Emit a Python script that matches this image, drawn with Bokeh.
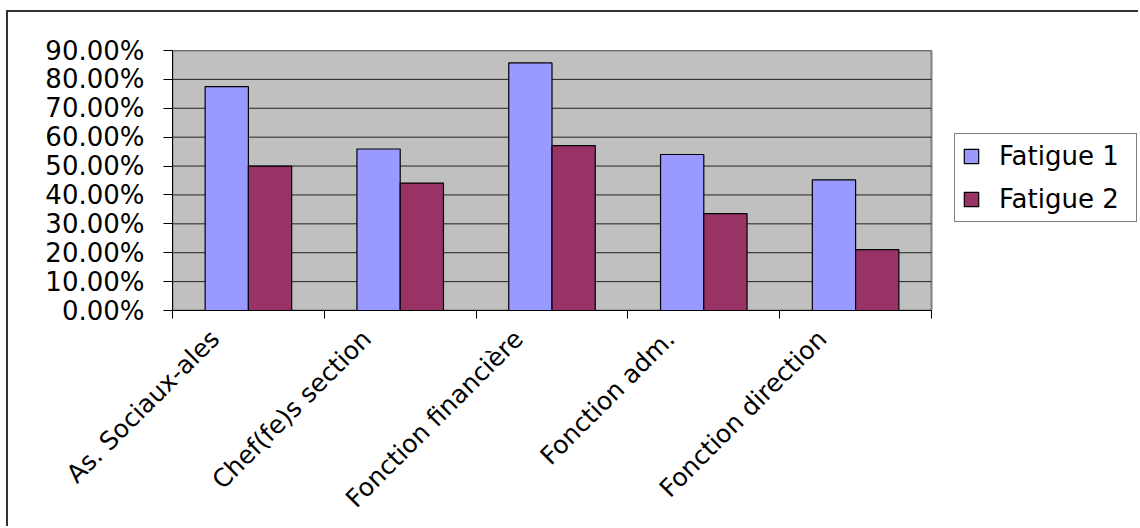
from math import pi

from bokeh.embed import file_html
from bokeh.models import (FixedTicker, Legend, LegendItem,
                          NumeralTickFormatter, Range1d)
from bokeh.plotting import figure
from bokeh.resources import INLINE

# Share of respondents reporting fatigue, by job category
categories = ["As. Sociaux-ales", "Chef(fe)s section", "Fonction financière",
              "Fonction adm.", "Fonction direction"]
fatigue_1 = [0.775, 0.559, 0.857, 0.540, 0.452]
fatigue_2 = [0.500, 0.441, 0.571, 0.335, 0.211]
series_names = ["Fatigue 1", "Fatigue 2"]
y_ticks = [0.0, 0.1, 0.2, 0.3, 0.4, 0.5, 0.6, 0.7, 0.8, 0.9]

FONT = "DejaVu Sans"
BAR_W = 0.285
LABEL_SHIFT = 0.22

n = len(categories)
y_max = y_ticks[-1]
x_f1 = [i + 0.5 - BAR_W / 2 for i in range(n)]
x_f2 = [i + 0.5 + BAR_W / 2 for i in range(n)]

# the frame runs to the right edge so the legend can sit beside the plot area
PLOT_AREA_PX = 759
FRAME_PX = 968
x_end = n * FRAME_PX / PLOT_AREA_PX

p = figure(width=1132, height=516,
           x_range=Range1d(0, x_end), y_range=Range1d(0, y_max),
           output_backend="svg", toolbar_location=None,
           min_border_left=164, min_border_right=0,
           min_border_top=38, min_border_bottom=218)

# chart area border (top and left edges; the others run off the page)
p.margin = (10, 0, 0, 6)
p.styles = {"border-top": "2px solid #333333",
            "border-left": "2px solid #333333"}

p.background_fill_color = "white"
p.border_fill_color = "white"
p.outline_line_color = None

# grey plot area with its own border
p.quad(left=[0], right=[n], bottom=[0], top=[y_max],
       fill_color="#C0C0C0", line_color="#808080", line_width=2)

# horizontal gridlines across the plot area only
p.xgrid.grid_line_color = None
p.ygrid.grid_line_color = None
p.segment(x0=[0] * len(y_ticks), x1=[n] * len(y_ticks), y0=y_ticks, y1=y_ticks,
          line_color="#222222", line_width=1)

r1 = p.vbar(x=x_f1, top=fatigue_1, bottom=0, width=BAR_W,
            fill_color="#9999FF", line_color="black", line_width=1.2)
r2 = p.vbar(x=x_f2, top=fatigue_2, bottom=0, width=BAR_W,
            fill_color="#993366", line_color="black", line_width=1.2)

# value axis
ya = p.yaxis[0]
ya.ticker = FixedTicker(ticks=y_ticks, minor_ticks=[])
ya.formatter = NumeralTickFormatter(format="0.00%")
ya.major_tick_out = 9
ya.major_tick_in = 0
ya.major_tick_line_color = "black"
ya.axis_line_color = "black"
ya.major_label_standoff = 19
ya.major_label_text_font = FONT
ya.major_label_text_font_size = "26px"
ya.major_label_text_color = "black"

# category axis: boundary tick marks as minor ticks, names at shifted major ticks
label_pos = [round(i + 0.5 - LABEL_SHIFT, 3) for i in range(n)]
xa = p.xaxis[0]
xa.bounds = (0, n)
xa.ticker = FixedTicker(ticks=label_pos, minor_ticks=list(range(n + 1)))
xa.major_label_overrides = {pos: name for pos, name in zip(label_pos, categories)}
xa.major_label_orientation = pi / 4
xa.major_tick_out = 0
xa.major_tick_in = 0
xa.minor_tick_out = 8
xa.minor_tick_in = 0
xa.minor_tick_line_color = "black"
xa.axis_line_color = "black"
xa.major_label_standoff = 16
xa.major_label_text_font = FONT
xa.major_label_text_font_size = "25px"
xa.major_label_text_color = "black"

legend = Legend(items=[LegendItem(label=series_names[0], renderers=[r1]),
                       LegendItem(label=series_names[1], renderers=[r2])],
                location=(782, 88))
legend.border_line_color = "black"
legend.border_line_width = 1
legend.background_fill_color = "white"
legend.background_fill_alpha = 1
legend.label_text_font = FONT
legend.label_text_font_size = "26px"
legend.label_text_color = "black"
legend.glyph_width = 18
legend.glyph_height = 18
legend.padding = 7
legend.spacing = 13
legend.label_standoff = 19
legend.label_width = 130
legend.margin = 0
p.add_layout(legend)

open("out.html", "w").write(file_html(p, INLINE))
